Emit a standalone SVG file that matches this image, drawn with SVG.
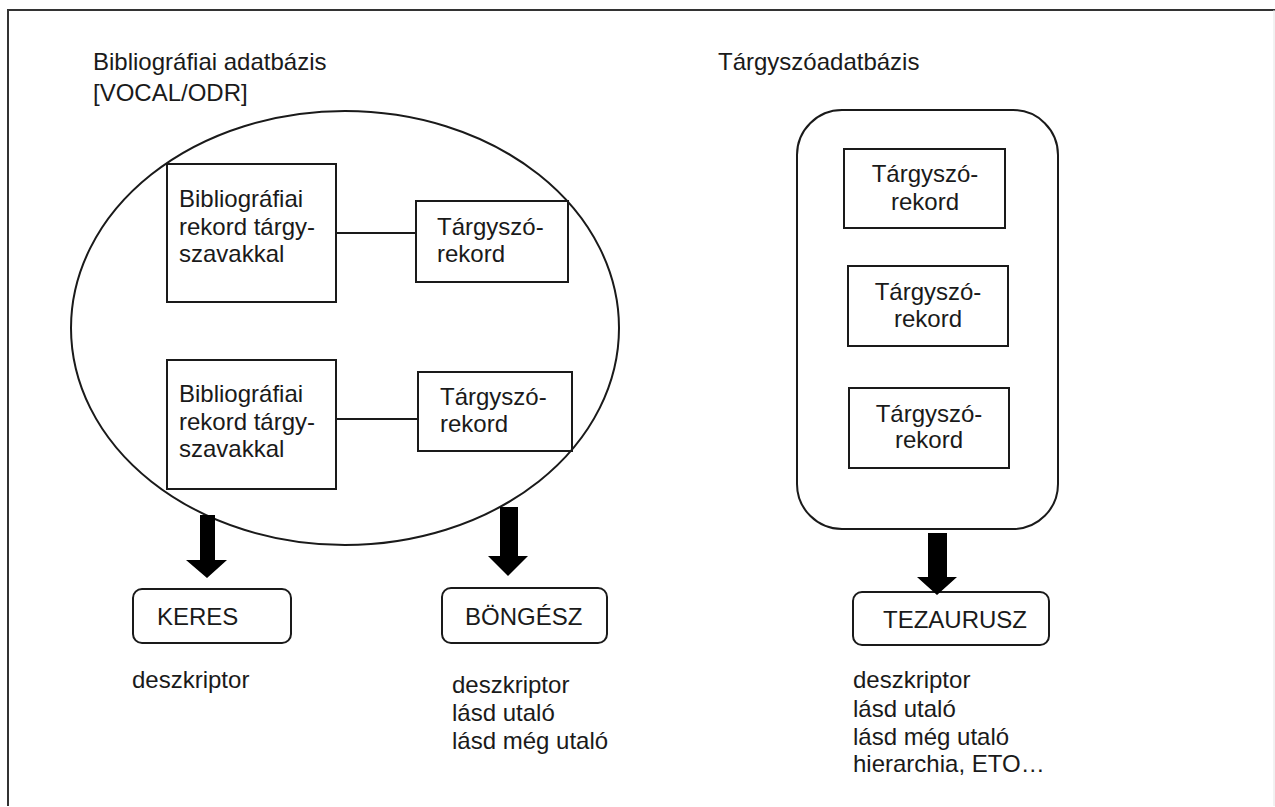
<svg xmlns="http://www.w3.org/2000/svg" width="1275" height="807" viewBox="0 0 1275 807">
<style>
text{font-family:"Liberation Sans",Arial,sans-serif;font-size:24px;fill:#1a1a1a}
.box{fill:none;stroke:#1a1a1a;stroke-width:2}
.ln{fill:none;stroke:#1a1a1a;stroke-width:2}
.arr{fill:#000}
.mid{text-anchor:middle}
</style>
<rect width="1275" height="807" fill="#fff"/>
<g id="frame">
<path d="M8,806 V10 H1275" fill="none" stroke="#333" stroke-width="2"/>
<path d="M1274,10 V806" fill="none" stroke="#e4e4e4" stroke-width="1"/>
</g>
<g id="title-bib">
<text x="93" y="70">Bibliográfiai adatbázis</text>
<text x="93" y="101">[VOCAL/ODR]</text>
</g>
<g id="title-targy">
<text x="718" y="70">Tárgyszóadatbázis</text>
</g>
<g id="bib-db">
<ellipse cx="345" cy="328" rx="274" ry="217" class="box"/>
</g>
<g id="bib-rec-1">
<rect x="167" y="164" width="169" height="138" class="box"/>
<text x="179" y="207">Bibliográfiai</text>
<text x="179" y="235">rekord tárgy-</text>
<text x="179" y="262">szavakkal</text>
</g>
<g id="targy-rec-1">
<rect x="416" y="201" width="152" height="81" class="box"/>
<text x="437" y="235">Tárgyszó-</text>
<text x="437" y="262">rekord</text>
</g>
<g id="bib-rec-2">
<rect x="167" y="360" width="169" height="129" class="box"/>
<text x="179" y="402">Bibliográfiai</text>
<text x="179" y="430">rekord tárgy-</text>
<text x="179" y="457">szavakkal</text>
</g>
<g id="targy-rec-2">
<rect x="418" y="372" width="154" height="79" class="box"/>
<text x="440" y="405">Tárgyszó-</text>
<text x="440" y="432">rekord</text>
</g>
<g id="targy-db">
<rect x="797" y="110" width="261" height="419" rx="45" ry="45" class="box"/>
</g>
<g id="targy-rec-3">
<rect x="844" y="149" width="161" height="79" class="box"/>
<text x="925" y="182" class="mid">Tárgyszó-</text>
<text x="925" y="210" class="mid">rekord</text>
</g>
<g id="targy-rec-4">
<rect x="848" y="266" width="160" height="80" class="box"/>
<text x="928" y="300" class="mid">Tárgyszó-</text>
<text x="928" y="327" class="mid">rekord</text>
</g>
<g id="targy-rec-5">
<rect x="849" y="388" width="160" height="80" class="box"/>
<text x="929" y="422" class="mid">Tárgyszó-</text>
<text x="929" y="448" class="mid">rekord</text>
</g>
<g id="keres">
<rect x="133" y="589" width="158" height="54" rx="9" ry="9" class="box"/>
<text x="157" y="625">KERES</text>
<text x="132" y="688">deszkriptor</text>
</g>
<g id="bongesz">
<rect x="442" y="588" width="165" height="55" rx="9" ry="9" class="box"/>
<text x="465" y="625">BÖNGÉSZ</text>
<text x="452" y="693">deszkriptor</text>
<text x="452" y="721">lásd utaló</text>
<text x="452" y="749">lásd még utaló</text>
</g>
<g id="tezaurusz">
<rect x="853" y="592" width="196" height="53" rx="9" ry="9" class="box"/>
<text x="883" y="628">TEZAURUSZ</text>
<text x="853" y="688">deszkriptor</text>
<text x="853" y="717">lásd utaló</text>
<text x="853" y="745">lásd még utaló</text>
<text x="853" y="772">hierarchia, ETO…</text>
</g>
<g id="connectors">
<line x1="336" y1="233" x2="416" y2="233" class="ln"/>
<line x1="336" y1="419" x2="418" y2="419" class="ln"/>
<polygon class="arr" points="200,515 215,515 215,560 227,560 207,578 186,560 200,560"/>
<polygon class="arr" points="500,507 518,507 518,556 528,556 508,576 488,556 500,556"/>
<polygon class="arr" points="928,533 947,533 947,577 957,577 937,595 917,577 928,577"/>
</g>
</svg>
